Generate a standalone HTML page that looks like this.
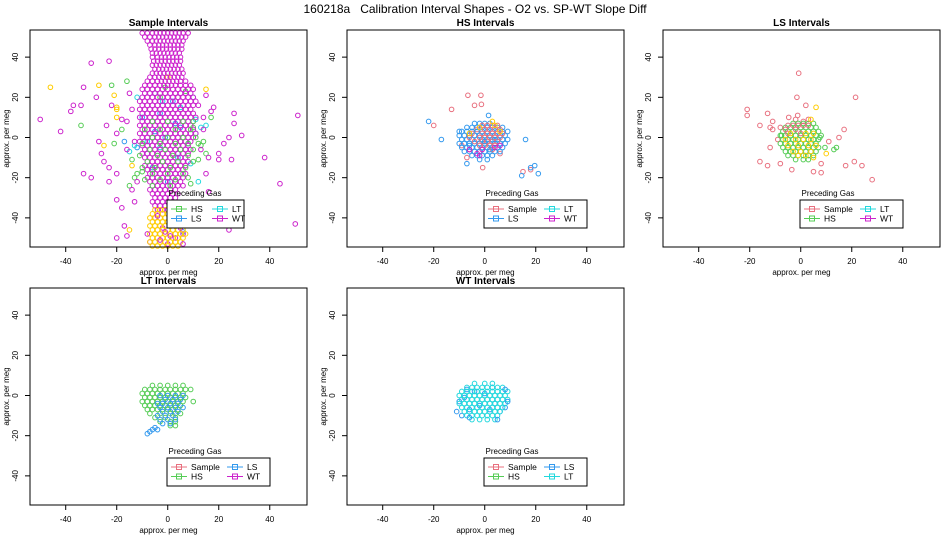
<!DOCTYPE html>
<html><head><meta charset="utf-8"><style>
body{margin:0;background:#fff;}
svg{display:block;font-family:"Liberation Sans",sans-serif;}
</style></head><body>
<svg id="chart" width="950" height="550" viewBox="0 0 950 550">
<text x="475" y="13" font-size="12" text-anchor="middle" style="white-space:pre">160218a   Calibration Interval Shapes - O2 vs. SP-WT Slope Diff</text>
</svg>
<script>
const xTicks=[-40,-20,0,20,40];
const yTicks=[-40,-20,0,20,40];
const colors={Sample:"#e8707f",HS:"#55cc55",LS:"#3399ee",LT:"#22d8dd",WT:"#cc22cc",Y:"#ffcc00"};
// panel 1: Sample Intervals  (rows "y:x,x,...")
const p1_WT_rows="52:-10,-8,-6,-4.5,-3,-1.5,0,1.5,3,4.5,6,8|50:-9,-7,-5,-3.5,-2,-0.5,1,2.5,4,5.5,7|48:-8,-6,-4.5,-3,-1.5,0,1.5,3,4.5,6|46:-7,-5,-3.5,-2,-0.5,1,2.5,4,5.5|44:-6.5,-5,-3.5,-2,-0.5,1,2.5,4,5.5|42:-6,-4.5,-3,-1.5,0,1.5,3,4.5|40:-6,-4,-2.5,-1,0.5,2,3.5,5|38:-5.5,-4,-2.5,-1,0.5,2,3.5,5|36:-6,-4.5,-3,-1.5,0,1.5,3,4.5|34:-5,-3.5,-2,-0.5,1,2.5,4,5.5|32:-6,-4.5,-3,-1.5,0,1.5,3,4.5,6|30:-7,-5,-3.5,-2,-0.5,1,2.5,4,5.5|28:-8,-6,-4,-2.5,-1,0.5,2,3.5,5,7|26:-9,-7,-5,-3,-1.5,0,1.5,3,5,7,9|24:-10,-8,-6,-4,-2,0,2,4,6,8,10|22:-9,-7,-5,-3,-1,1,3,5,7,9|20:-10,-8,-6,-4,-2,0,2,4,6,8,10|18:-11,-9,-7,-5,-3,-1,1,3,5,7,9,11|16:-10,-8,-6,-4,-2,0,2,4,6,8,10|14:-11,-9,-7,-5,-3,-1,1,3,5,7,9|12:-10,-8,-6,-4,-2,0,2,4,6,8,10|10:-11,-9,-7,-5,-3,-1,1,3,5,7,9,11|8:-10,-8,-6,-4,-2,0,2,4,6,8,10|6:-11,-9,-7,-5,-3,-1,1,3,5,7,9|4:-10,-8,-6,-4,-2,0,2,4,6,8,10|2:-11,-9,-7,-5,-3,-1,1,3,5,7,9,11|0:-10,-8,-6,-4,-2,0,2,4,6,8,10|-2:-11,-9,-7,-5,-3,-1,1,3,5,7,9|-4:-10,-8,-6,-4,-2,0,2,4,6,8|-6:-9,-7,-5,-3,-1,1,3,5,7,9|-8:-10,-8,-6,-4,-2,0,2,4,6,8|-10:-9,-7,-5,-3,-1,1,3,5,7|-12:-8,-6,-4,-2,0,2,4,6,8|-14:-9,-7,-5,-3,-1,1,3,5,7|-16:-8,-6,-4,-2,0,2,4,6|-18:-7,-5,-3,-1,1,3,5,7|-20:-8,-6,-4,-2,0,2,4,6|-22:-7,-5,-3,-1,1,3,5|-24:-6,-4,-2,0,2,4,6|-26:-7,-5,-3,-1,1,3|-28:-6,-4,-2,0,2,4|-30:-5,-3,-1,1,3|-32:-6,-4,-2,0,2|-34:-5,-3,-1,1,3|-36:-4,-2,0,2";
const p1_WT="-5,-40 4,-42 -2,-45 6,-48 -7,-52 0,-53 3,-50 -50,9 -42,3 -38,13 -37,16 -34,16 -33,25 -33,-18 -30,37 -30,-20 -28,20 -27,-2 -26,-8 -25,-12 -24,6 -23,38 -23,-15 -23,-22 -22,16 -20,2 -20,-18 -20,-31 -18,-35 -17,-44 -20,-50 -16,-49 -14,-26 -13,-32 20,-8 20,-11 22,-3 24,0 25,-11 24,-46 26,7 26,12 29,1 38,-10 44,-23 50,-43 51,11 18,15 15,-18 16,-27 12,-35 15,21 17,13 14,4 16,-10 -15,22 -18,9 -16,-6 -12,-22 -14,14 -16,8 14,10 13,-6 -13,-2 12,16";
const p1_HS_rows="8:-6,0,6,10|4:-9,-3,3,9|0:-6,0,6,11|-3:-10,-3,3,8,12|-6:-7,-1,5,10|-9:-11,-4,2,8|-12:-8,-2,4,10|-15:-10,-5,1,7|-18:-12,-6,0,6|-21:-9,-3,3|-24:-6,1";
const p1_HS="-22,26 -16,28 -34,6 -21,-3 -18,4 -14,-11 -13,-20 -15,-24 -10,-17 5,-2 10,5 12,-11 13,-4 14,-2 15,-8 17,10 8,-20 9,-23 4,20 7,23 -1,25 -3,20";
const p1_LS="-17,-2 -12,-5 -10,10 -8,-8 -5,3 -3,12 0,-22 2,18 5,5 8,-3 10,20 11,2 4,-10 -6,-15 9,-34 6,-47 -1,0 3,7";
const p1_LT="-15,-7 -13,-4 -12,20 -8,-2 -5,22 -2,18 5,15 9,-13 11,9 13,5 15,6 12,-22 -3,-5 4,-8";
const p1_Y_rows="-36:-5,-3,-1,1,3|-38:-6,-4,-2,0,2,4|-40:-7,-5,-3,-1,1,3,5|-42:-6,-4,-2,0,2,4,6|-44:-7,-5,-3,-1,1,3,5|-46:-6,-4,-2,0,2,4,6|-48:-7,-5,-3,-1,1,3,5,7|-50:-6,-4,-2,0,2,4,6|-52:-7,-5,-3,-1,1,3,5|-54:-6,-4,-2,0,2,4";
const p1_Y="-46,25 -27,26 -21,21 -20,15 -20,14 -20,10 -25,-4 -14,-14 -15,-46 15,24 12,-40 0,30";
const p1_WT_top="-4,-39 2,-43 -1,-47 5,-45 -3,-51 1,-49 -8,-48 6,-53";
// panel 2: HS Intervals
const p2_LS_rows="7:-4,-2,0,2|5:-7,-5,-3,-1,1,3,5,7|3:-9,-7,-5,-3,-1,1,3,5,7,9|1:-10,-8,-6,-4,-2,0,2,4,6,8|-1:-9,-7,-5,-3,-1,1,3,5,7,9|-3:-10,-8,-6,-4,-2,0,2,4,6,8|-5:-9,-7,-5,-3,-1,1,3,5,7|-7:-8,-6,-4,-2,0,2,4,6|-9:-5,-3,-1,1,3|-11:-2,1";
const p2_S_rows="6:-1,1,3,5|4:-3,0,2,4,6|2:-5,-1,1,3,5,7|0:-6,-2,0,2,4,6|-2:-4,-1,1,3,5|-4:-2,0,2,4|-6:-6,-1,3";
const p2_LS="-22,8 -17,-1 -10,3 1.5,11 16,-1 19.6,-14 21,-18 14.5,-19 18,-15 -7,-13 -3,3 0,-2 4,-1 -6,-4 2,-6";
const p2_S="-6.6,21 -1.5,21 -4,16 -1.3,16.5 -13,14 -20,6 15,-17 18,-16 -0.8,-15 -7,-10 6,-8 -9,-4";
const p2_WT="-1,-6 -3,-8 4,-5 6,-4 -6,-6 -2,-9";
const p2_Y="-2,5 4,6 6,3 3,8 -6,2";
// panel 3: LS Intervals
const p3_HS_rows="7:-3,-1,1,3,5|5:-6,-4,-2,0,2,4,6|3:-7,-5,-3,-1,1,3,5,7|1:-8,-6,-4,-2,0,2,4,6,8|-1:-7,-5,-3,-1,1,3,5,7|-3:-8,-6,-4,-2,0,2,4,6|-5:-7,-5,-3,-1,1,3,5,7|-7:-6,-4,-2,0,2,4,6|-9:-5,-3,-1,1,3,5|-11:-2,1,3";
const p3_S_rows="6:-5,-3,-1,1,3|4:-6,-2|2:-5,0";
const p3_Y_rows="2:-4,2,5|-1:-6,-2,1,4|-4:-5,-1,3,6|-7:-3,0,4|-9:-1,2";
const p3_HS="14,-5 13,-6 9.5,-5 7.5,0 -7.5,1";
const p3_S="-0.8,32 -1.5,20 21.5,20 2,16 -21,14 -21,11 -13,12 -11,8 -16,6 -12,5 -11,4 -8,5 -4.7,10 -1.2,11 17,4 15,0 11,-2 -12,-5 -16,-12 -13,-14 -8,-13 -3.5,-16 5,-17 8,-17.5 8,-13 17.6,-14 21,-12 24,-14 28,-21 -9,-1 1,8 3,9 -2,9";
const p3_Y="6,15 4,9 10,-8 5,-10";
// panel 4: LT Intervals
const p4_HS_rows="5:-6,-3,0,3,6|3:-9,-7,-5,-3,-1,1,3,5,7,9|1:-10,-8,-6,-4,-2,0,2,4,6|-1:-9,-7,-5,-3,-1,1,3,5,7|-3:-10,-8,-6,-4,-2,0,2,4,6,10|-5:-9,-7,-5,-3,-1,1,3,5|-7:-8,-6,-4,-2,0,2,4|-9:-7,-3,1,3,5|-11:-5,-1,3|-13:-3,1,3|-15:1,3";
const p4_LS_rows="0:-3,0,3,6|-2:-1,2,5|-4:-4,-2,1,4|-6:-3,0,3,6|-8:-2,1,4|-10:-4,-1,2|-12:-3,0,3|-14:-2,1|-16:-5|-17:-6,-4|-18:-7|-19:-8";
// panel 5: WT Intervals
const p5_LS="-8,-1 -4,2 -2,-5 0,1 2,-7 4,-4 6,-8 -6,-7 3,4 -9,-10 -10,-3 8,-6 -7,3";
const p5_LT_rows="6:-4,0,3|4:-7,-5,-3,-1,1,3,5,7|2:-9,-7,-5,-3,-1,1,3,5,7,9|0:-10,-8,-6,-4,-2,0,2,4,6,8|-2:-9,-7,-5,-3,-1,1,3,5,7,9|-4:-10,-8,-6,-4,-2,0,2,4,6,8|-6:-9,-7,-5,-3,-1,1,3,5,7|-8:-8,-6,-4,-2,0,2,4,6|-10:-7,-5,-3,-1,1,3,5|-12:-5,-2,1,4";
const p5_LS_edge="-11,-8 8,3 -6,-11 5,-12 9,-3";

const NS="http://www.w3.org/2000/svg";
const svg=document.getElementById("chart");
function el(tag,attrs,parent){const e=document.createElementNS(NS,tag);for(const k in attrs)e.setAttribute(k,attrs[k]);(parent||svg).appendChild(e);return e;}
function parse(s){return s.trim().split(/\s+/).map(p=>p.split(",").map(Number));}
function parseRows(s){const out=[];s.split("|").forEach(r=>{const [y,xs]=r.split(":");xs.split(",").forEach(x=>out.push([Number(x),Number(y)]));});return out;}
const W=277,H=217,XMIN=-54,XMAX=54.6,YMAX=53.5,YMIN=-54.5;

function panel(ox,oy,title,series,legendItems,name){
  const g=el("g",{});
  
  
  const sx=x=>ox+(x-XMIN)/(XMAX-XMIN)*W;
  const sy=y=>oy+(YMAX-y)/(YMAX-YMIN)*H;
  const t=el("text",{x:ox+W/2,y:oy-4,"font-size":"10","font-weight":"bold","text-anchor":"middle"},g);
  t.textContent=title;
  
  
  const pts=el("g",{},g);
  
  
  series.forEach(([data,col,rows])=>{
    (rows?parseRows(data):parse(data)).forEach(([x,y])=>{
      const px=sx(x),py=sy(y);
      if(px<ox||px>ox+W||py<oy||py>oy+H)return;
      const c=el("circle",{cx:px,cy:py,r:2.3,fill:"none",stroke:col,"stroke-width":"1"},pts);
      
      
    });
  });
  const b=el("rect",{x:ox,y:oy,width:W,height:H,fill:"none",stroke:"#000","stroke-width":"1"},g);
  
  
  xTicks.forEach(v=>{
    el("line",{x1:sx(v),x2:sx(v),y1:oy+H,y2:oy+H+5,stroke:"#000"},g);
    const tl=el("text",{x:sx(v),y:oy+H+17,"font-size":"8","text-anchor":"middle"},g);
    tl.textContent=v;
    
    
  });
  yTicks.forEach(v=>{
    el("line",{x1:ox-5,x2:ox,y1:sy(v),y2:sy(v),stroke:"#000"},g);
    const tl=el("text",{x:0,y:0,"font-size":"8","text-anchor":"middle",transform:`translate(${ox-12},${sy(v)}) rotate(-90)`},g);
    tl.textContent=v;
    
    
  });
  const xl=el("text",{x:ox+W/2,y:oy+H+28,"font-size":"8","text-anchor":"middle"},g);
  xl.textContent="approx. per meg";
  
  
  const yl=el("text",{x:0,y:0,"font-size":"8","text-anchor":"middle",transform:`translate(${ox-21},${oy+H/2}) rotate(-90)`},g);
  yl.textContent="approx. per meg";
  
  
  const hasSample=legendItems.indexOf("Sample")>=0;
  const lw=hasSample?103:77, lx=ox+137, ly=oy+170;
  const lg=el("g",{},g);
  
  
  const lt=el("text",{x:lx+28,y:ly-4,"font-size":"8","text-anchor":"middle"},lg);
  lt.textContent="Preceding Gas";
  
  
  el("rect",{x:lx,y:ly,width:lw,height:28,fill:"#fff",stroke:"#000"},lg);
  const colW=hasSample?56:41;
  legendItems.forEach((n,i)=>{
    const cx=lx+4+Math.floor(i/2)*colW, cy=ly+9+(i%2)*9.5;
    const e=el("g",{},lg);
    
    
    el("line",{x1:cx,x2:cx+16,y1:cy,y2:cy,stroke:colors[n]},e);
    el("rect",{x:cx+5.5,y:cy-2.5,width:5,height:5,fill:"none",stroke:colors[n]},e);
    const tx=el("text",{x:cx+20,y:cy+3,"font-size":"8.5"},e);
    tx.textContent=n;
  });
}
panel(30,30,"Sample Intervals",[[p1_Y,colors.Y],[p1_HS,colors.HS],[p1_LS,colors.LS],[p1_LT,colors.LT],[p1_WT_rows,colors.WT,1],[p1_WT,colors.WT],[p1_HS_rows,colors.HS,1],[p1_Y_rows,colors.Y,1],[p1_WT_top,colors.WT]],["HS","LS","LT","WT"],"panel-sample");
panel(347,30,"HS Intervals",[[p2_S,colors.Sample],[p2_LS_rows,colors.LS,1],[p2_S_rows,colors.Sample,1],[p2_LS,colors.LS],[p2_WT,colors.WT],[p2_Y,colors.Y]],["Sample","LS","LT","WT"],"panel-hs");
panel(663,30,"LS Intervals",[[p3_S,colors.Sample],[p3_HS_rows,colors.HS,1],[p3_S_rows,colors.Sample,1],[p3_HS,colors.HS],[p3_Y_rows,colors.Y,1],[p3_Y,colors.Y]],["Sample","HS","LT","WT"],"panel-ls");
panel(30,288,"LT Intervals",[[p4_HS_rows,colors.HS,1],[p4_LS_rows,colors.LS,1]],["Sample","HS","LS","WT"],"panel-lt");
panel(347,288,"WT Intervals",[[p5_LS,colors.LS],[p5_LT_rows,colors.LT,1],[p5_LS_edge,colors.LS]],["Sample","HS","LS","LT"],"panel-wt");
</script>
</body></html>
